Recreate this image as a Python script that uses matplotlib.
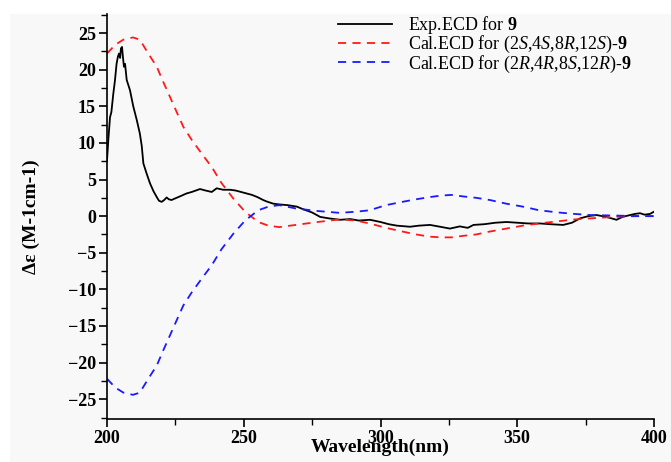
import numpy as np
import matplotlib.pyplot as plt
import matplotlib
from matplotlib.patches import Rectangle
from matplotlib.ticker import MultipleLocator

matplotlib.rcParams['font.family'] = ['Liberation Serif', 'DejaVu Serif']
matplotlib.rcParams['mathtext.fontset'] = 'custom'
matplotlib.rcParams['mathtext.rm'] = 'Liberation Serif'
matplotlib.rcParams['mathtext.it'] = 'Liberation Serif:italic'
matplotlib.rcParams['mathtext.bf'] = 'Liberation Serif:bold'

exp_wl = [200, 200.5, 201.1, 201.6, 202.3, 202.9, 203.5, 204.0, 204.4, 204.8, 205.1, 205.5,
          205.8, 206.2, 206.6, 207.2, 208.4, 209.6, 210.9, 212.0, 212.7, 213.3, 214.5,
          215.7, 217.0, 218.2, 219.0, 220.0, 220.9, 221.8, 222.6, 223.6, 224.8,
          226.7, 229.1, 231.0, 232.5, 234.0, 236.0, 238.3, 240.1, 242.5, 245.0,
          247.0, 249.0, 251.0, 253.0, 255.0, 257.1, 258.4, 260.8, 263.0, 266.0, 269.4,
          272.0, 275.0, 277.9, 281.0, 285.2, 289.0, 292.0, 296.2, 300.0, 303.0, 306.0,
          310.8, 314.0, 318.1, 321.8, 325.4, 329.0, 331.9, 334.0, 338.0, 342.0, 346.1,
          350.0, 354.0, 358.3, 362.0, 366.8, 370.0, 373.0, 376.0, 379.0, 382.5, 386.3,
          388.5, 391.2, 393.0, 394.9, 396.5, 398.5, 400.0]
exp_de = [7.6, 10.5, 13.5, 14.2, 16.7, 18.5, 20.8, 21.8, 22.2, 21.6, 22.9, 23.1,
          21.8, 20.4, 20.8, 18.6, 17.2, 15.0, 13.1, 11.3, 9.6, 7.2, 5.8,
          4.5, 3.4, 2.6, 2.1, 1.95, 2.2, 2.55, 2.3, 2.2, 2.4,
          2.7, 3.1, 3.3, 3.5, 3.7, 3.5, 3.3, 3.8, 3.6, 3.6,
          3.5, 3.3, 3.1, 2.9, 2.6, 2.2, 2.0, 1.7, 1.6, 1.5, 1.3,
          0.9, 0.5, -0.1, -0.3, -0.5, -0.4, -0.6, -0.5, -0.8, -1.1, -1.3,
          -1.45, -1.3, -1.2, -1.45, -1.7, -1.4, -1.6, -1.2, -1.1, -0.9, -0.8,
          -0.9, -1.0, -1.0, -1.1, -1.2, -0.9, -0.3, 0.0, 0.15, -0.1, -0.5,
          -0.1, 0.14, 0.3, 0.4, 0.2, 0.3, 0.6]

# calculated ECD (2S,4S,8R,12S)
cal_wl = [200, 203, 206, 209.5, 212, 215.1, 218.2, 220.6, 223, 225.5, 227.9, 231,
          234.6, 238.3, 241.9, 246.2, 250.5, 255.3, 259, 263, 269, 277, 285, 291,
          296, 302, 308, 313, 318, 322, 326, 330, 335, 340, 346, 352, 358, 365, 371,
          377, 383, 389, 395, 400]
cal_s = [22.2, 23.4, 24.1, 24.4, 24.1, 22.2, 20.4, 18.3, 16.3, 14.2, 12.2, 10.4,
         8.55, 6.7, 4.5, 2.4, 0.6, -0.8, -1.3, -1.5, -1.2, -0.8, -0.45, -0.6,
         -1.0, -1.6, -2.1, -2.5, -2.8, -2.9, -2.9, -2.7, -2.5, -2.1, -1.7, -1.3, -1.0, -0.7, -0.45,
         -0.3, -0.15, -0.05, 0.0, 0.0]
# calculated ECD (2R,4R,8S,12R)
cal_r = [-22.2, -23.4, -24.1, -24.4, -24.1, -22.2, -20.4, -18.3, -16.3, -14.2, -12.2, -10.4,
         -8.55, -6.7, -4.5, -2.4, -0.6, 0.8, 1.3, 1.5, 1.05, 0.7, 0.45, 0.6,
         0.8, 1.5, 1.95, 2.3, 2.6, 2.8, 2.9, 2.7, 2.5, 2.2, 1.7, 1.3, 0.8, 0.5, 0.3,
         0.14, 0.1, 0.05, 0.0, 0.0]

fig = plt.figure(figsize=(6.71, 4.62), dpi=100)
fig.patches.append(Rectangle((10 / 671, 0), 1, 1 - 14 / 462, transform=fig.transFigure,
                             facecolor='#f8f8f8', edgecolor='none', zorder=-10))
ax = fig.add_axes([107 / 671, 1 - 419 / 462, (654 - 107) / 671, (419 - 14) / 462])
ax.set_facecolor('none')

ax.plot(exp_wl, exp_de, color='black', lw=1.3, label='Exp.ECD for $\\mathbf{9}$')
ax.plot(cal_wl, cal_s, color='#ff1a1a', lw=1.3, dashes=(4.5, 3.5),
        label='Cal.ECD for (2$\\mathit{S}$,4$\\mathit{S}$,8$\\mathit{R}$,12$\\mathit{S}$)-$\\mathbf{9}$')
ax.plot(cal_wl, cal_r, color='#1a1aff', lw=1.3, dashes=(4.5, 3.5),
        label='Cal.ECD for (2$\\mathit{R}$,4$\\mathit{R}$,8$\\mathit{S}$,12$\\mathit{R}$)-$\\mathbf{9}$')

ax.set_xlim(200, 400)
ax.set_ylim(-27.7, 27.6)
ax.xaxis.set_major_locator(MultipleLocator(50))
ax.xaxis.set_minor_locator(MultipleLocator(25))
ax.yaxis.set_major_locator(MultipleLocator(5))
ax.yaxis.set_minor_locator(MultipleLocator(2.5))
for s in ['top', 'right']:
    ax.spines[s].set_visible(False)
for s in ['left', 'bottom']:
    ax.spines[s].set_linewidth(1.2)
ax.tick_params(which='major', length=6, width=1.2, direction='out', labelsize=13, pad=2)
ax.tick_params(which='minor', length=4, width=1.0, direction='out')
for lab in ax.get_xticklabels() + ax.get_yticklabels():
    lab.set_fontweight('bold')

ax.set_xlabel('Wavelength(nm)', fontsize=14, fontweight='bold', labelpad=-6)
ax.set_ylabel('Δε (M-1cm-1)', fontsize=14, fontweight='bold', labelpad=20)

ax.legend(loc='upper right', bbox_to_anchor=(0.99, 1.04), frameon=False, fontsize=13,
          handlelength=3.0, handletextpad=0.9, labelspacing=-0.1)

fig.savefig('out.png', dpi=100)
